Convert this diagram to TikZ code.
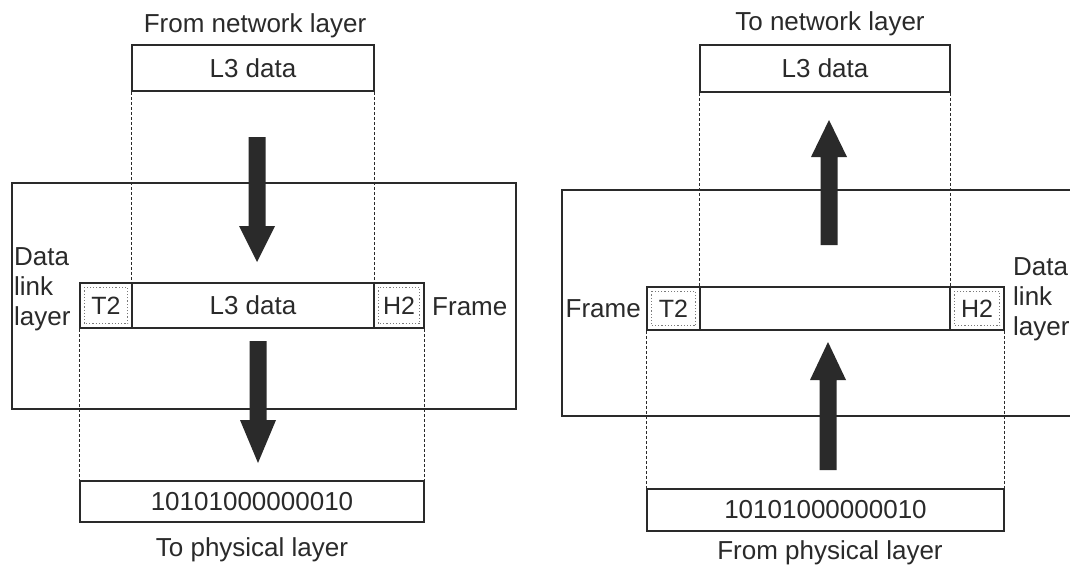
\documentclass[tikz,border=0pt]{standalone}
\usepackage{fontspec}
\setmainfont{Liberation Sans}
\definecolor{ink}{HTML}{2A2A2A}
\definecolor{dotink}{HTML}{7A7A7A}
\newcommand\fatarrow[4]{% x, tail y, head-base y, tip y
  \fill[ink] (#1-8.5,#2) -- (#1-8.5,#3) -- (#1-18,#3) -- (#1,#4) -- (#1+18,#3) -- (#1+8.5,#3) -- (#1+8.5,#2) -- cycle;}
\begin{document}
\begin{tikzpicture}[x=1pt,y=-1pt,
  every node/.style={font=\fontsize{26}{30}\selectfont, text=ink},
  box/.style={draw=ink, line width=1.6pt, inner sep=0pt},
  lbl/.style={inner sep=0pt},
  cell/.style={box, font=\fontsize{25}{28}\selectfont},
  guide/.style={draw=ink, line width=1.3pt, dash pattern=on 3pt off 2pt},
  outer/.style={draw=ink, line width=1.6pt},
  inbox/.style={draw=dotink, line width=1.2pt, dotted}]
\useasboundingbox (0,0) rectangle (1070,568);
\clip (0,0) rectangle (1070,568);
\fill[white] (0,0) rectangle (1070,568);

% ---------------- left diagram ----------------
\draw[outer] (12,183) rectangle (516,409);
\node[lbl] (lnet) at (255,26) {From network layer};
\node[box, minimum width=242pt, minimum height=46pt] (ltop) at (253,68) {L3 data};
\node[cell, minimum width=52pt, minimum height=45pt] (lT) at (106,305.5) {T2};
\node[box, minimum width=242pt, minimum height=45pt] (lmid) at (253,305.5) {L3 data};
\node[cell, minimum width=50pt, minimum height=45pt] (lH) at (399,305.5) {H2};
\node[box, minimum width=344pt, minimum height=41pt] (lbot) at (252,501.5) {10101000000010};
\node[lbl] (lphy) at (252,550) {To physical layer};
\node[lbl, align=left, anchor=west] (ldll) at (14,289) {Data\\link\\layer};
\node[lbl, anchor=west] (lfr) at (432,307) {Frame};
\draw[inbox] ([xshift=5pt,yshift=-5pt]lT.north west) rectangle ([xshift=-5pt,yshift=5pt]lT.south east);
\draw[inbox] ([xshift=5pt,yshift=-5pt]lH.north west) rectangle ([xshift=-5pt,yshift=5pt]lH.south east);
\draw[guide] (ltop.south west) -- (lmid.north west);
\draw[guide] (ltop.south east) -- (lmid.north east);
\draw[guide] (lT.south west) -- (lbot.north west);
\draw[guide] (lH.south east) -- (lbot.north east);
\fatarrow{257}{137}{226}{262}
\fatarrow{258}{341}{420}{463}

% ---------------- right diagram ----------------
\draw[outer] (562,190) rectangle (1090,416);
\node[lbl] (rnet) at (830,24) {To network layer};
\node[box, minimum width=250pt, minimum height=47pt] (rtop) at (825,68.5) {L3 data};
\node[cell, minimum width=53pt, minimum height=43pt] (rT) at (673.5,308.5) {T2};
\node[box, minimum width=250pt, minimum height=43pt] (rmid) at (825,308.5) {};
\node[cell, minimum width=54pt, minimum height=43pt] (rH) at (977,308.5) {H2};
\node[box, minimum width=357pt, minimum height=42pt] (rbot) at (825.5,510) {10101000000010};
\node[lbl] (rphy) at (830,553) {From physical layer};
\node[lbl, align=left, anchor=west] (rdll) at (1013,299) {Data\\link\\layer};
\node[lbl, anchor=east] (rfr) at (641,309) {Frame};
\draw[inbox] ([xshift=5pt,yshift=-5pt]rT.north west) rectangle ([xshift=-5pt,yshift=5pt]rT.south east);
\draw[inbox] ([xshift=5pt,yshift=-5pt]rH.north west) rectangle ([xshift=-5pt,yshift=5pt]rH.south east);
\draw[guide] (rtop.south west) -- (rmid.north west);
\draw[guide] (rtop.south east) -- (rmid.north east);
\draw[guide] (rT.south west) -- (rbot.north west);
\draw[guide] (rH.south east) -- (rbot.north east);
\fatarrow{829}{245}{157}{120}
\fatarrow{828}{470}{380}{342}
\end{tikzpicture}
\end{document}
